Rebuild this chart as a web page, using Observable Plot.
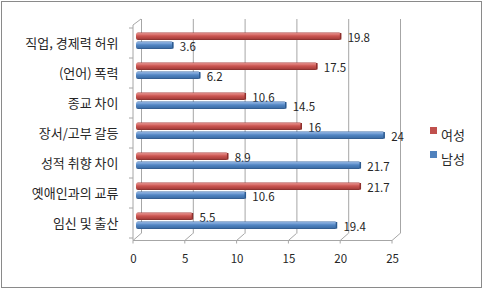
<!DOCTYPE html>
<html><head><meta charset="utf-8">
<script src="https://cdn.jsdelivr.net/npm/d3@7"></script>
<script src="https://cdn.jsdelivr.net/npm/@observablehq/plot@0.6"></script>
<style>
body{margin:0;background:#fff;}
#wrap{position:relative;width:483px;height:291px;overflow:hidden;background:#fff;}
#chart{position:absolute;left:0;top:0;}
#border{position:absolute;left:1px;top:1px;width:481px;height:287px;border:1px solid #8a8a8a;box-sizing:border-box;pointer-events:none;}
.lg{position:absolute;font-family:"Noto Sans CJK KR",sans-serif;font-size:13px;line-height:16px;color:#262626;}
.sw{position:absolute;width:7px;height:7px;}
</style></head><body>
<div id="wrap"><div id="chart"></div><div id="border"></div><div id="legend"></div></div>
<script>
const categories = ["직업, 경제력 허위","(언어) 폭력","종교 차이","장서/고부 갈등","성적 취향 차이","옛애인과의 교류","임신 및 출산"];
const female = [19.8,17.5,10.6,16,8.9,21.7,5.5];
const male = [3.6,6.2,14.5,24,21.7,10.6,19.4];
const series = ["여성","남성"];
const seriesColors = ["#c0504d","#4f81bd"];
const xTicks = [0,5,10,15,20,25];

const fRows = categories.map((c,i)=>({category:c, value:female[i]}));
const mRows = categories.map((c,i)=>({category:c, value:male[i]}));

const FONT = "\"Noto Sans CJK KR\", sans-serif";

function frame3d(index, scales, values, dims) {
  const {x, y} = scales;
  const g = d3.create("svg:g").attr("stroke", "#a6a6a6").attr("fill", "none").attr("stroke-width", 1);
  const bottom = dims.height - dims.marginBottom;
  const top = dims.marginTop;
  const fx = v => x(v) - 3;
  const bx = v => x(v) + 5;
  const dz = 7;
  g.append("line").attr("x1", fx(xTicks[0])).attr("x2", fx(xTicks[xTicks.length-1])).attr("y1", bottom).attr("y2", bottom);
  for (const v of xTicks) {
    g.append("line").attr("x1", fx(v)).attr("y1", bottom).attr("x2", bx(v)).attr("y2", bottom - dz);
    g.append("line").attr("x1", fx(v)).attr("y1", bottom).attr("x2", fx(v)).attr("y2", bottom + 3);
  }
  g.append("line").attr("x1", fx(0)).attr("x2", fx(0)).attr("y1", top).attr("y2", bottom);
  g.append("line").attr("x1", fx(0)).attr("y1", top).attr("x2", bx(0)).attr("y2", top - dz + 1);
  const bounds = categories.map(c => y(c)).concat([y(categories[categories.length-1]) + y.bandwidth()]);
  for (const b of bounds) {
    g.append("line").attr("x1", fx(0) - 4).attr("x2", fx(0)).attr("y1", b).attr("y2", b);
  }
  return g.node();
}

const plot = Plot.plot({
  width: 483,
  height: 291,
  marginLeft: 136,
  marginRight: 88,
  marginTop: 25,
  marginBottom: 50.5,
  style: {fontFamily: FONT, fontSize: "13px", color: "#262626", background: "transparent"},
  x: {domain: [0, 25], axis: null},
  y: {domain: categories, padding: 0, label: null},
  marks: [
    Plot.gridX(xTicks, {dx: 5, dy: -7, insetTop: 1, stroke: "#a6a6a6", strokeOpacity: 1}),
    frame3d,
    Plot.axisY({tickSize: 0, tickPadding: 18, label: null, fontSize: 13}),
    Plot.text(xTicks, {x: d => d, frameAnchor: "bottom", dx: -3, dy: 22, text: d => String(d), fontSize: 11.5, fill: "#262626"}),
    Plot.barX(fRows, {x: "value", y: "category", insetTop: 4.5, insetBottom: 18, fill: "url(#gRed)", rx: 2}),
    Plot.tickX(fRows, {x: "value", y: "category", insetTop: 5, insetBottom: 18.5, stroke: "#8e2f2c", strokeWidth: 1.5, dx: -1}),
    Plot.text(fRows, {x: "value", y: "category", text: d => String(d.value), dx: 6, dy: -5, textAnchor: "start", fontSize: 11.5, fill: "#262626"}),
    Plot.barX(mRows, {x: "value", y: "category", insetTop: 13.5, insetBottom: 9, fill: "url(#gBlue)", rx: 2}),
    Plot.tickX(mRows, {x: "value", y: "category", insetTop: 14, insetBottom: 9.5, stroke: "#2c5a8f", strokeWidth: 1.5, dx: -1}),
    Plot.text(mRows, {x: "value", y: "category", text: d => String(d.value), dx: 6, dy: 4, textAnchor: "start", fontSize: 11.5, fill: "#262626"})
  ]
});

d3.select(plot).insert("defs", ":first-child").html(`
  <linearGradient id="gRed" x1="0" y1="0" x2="0" y2="1">
    <stop offset="0" stop-color="#a9413e"/>
    <stop offset="0.15" stop-color="#e48a86"/>
    <stop offset="0.45" stop-color="#cc5652"/>
    <stop offset="0.85" stop-color="#a8403d"/>
    <stop offset="1" stop-color="#7a2a28"/>
  </linearGradient>
  <linearGradient id="gBlue" x1="0" y1="0" x2="0" y2="1">
    <stop offset="0" stop-color="#3a6aa5"/>
    <stop offset="0.15" stop-color="#8fb3e2"/>
    <stop offset="0.45" stop-color="#5286c4"/>
    <stop offset="0.85" stop-color="#3f6fa8"/>
    <stop offset="1" stop-color="#2a507f"/>
  </linearGradient>`);

document.getElementById("chart").appendChild(plot);

const legend = document.getElementById("legend");
const legendTops = [127, 151];
series.forEach((s, i) => {
  const sw = document.createElement("div");
  sw.className = "sw";
  sw.style.left = "430px";
  sw.style.top = (legendTops[i]) + "px";
  sw.style.background = seriesColors[i];
  legend.appendChild(sw);
  const t = document.createElement("div");
  t.className = "lg";
  t.style.left = "441px";
  t.style.top = legendTops[i] + "px";
  t.textContent = s;
  legend.appendChild(t);
});
</script>
</body></html>
